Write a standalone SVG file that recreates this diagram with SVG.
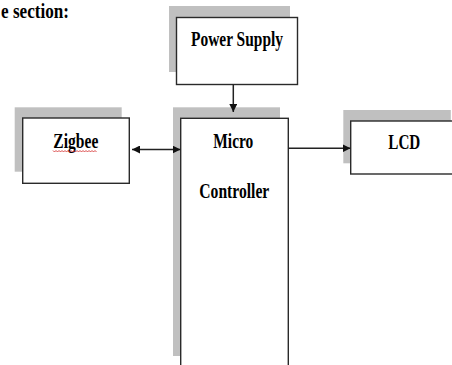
<svg xmlns="http://www.w3.org/2000/svg" width="452" height="365" viewBox="0 0 452 365">
<defs>
<style>
.sh{fill:#c0c0c0}
.bx{fill:#fff;stroke:#2a2a2a;stroke-width:1.4}
.t{font-family:"Liberation Serif","Times New Roman",serif;font-weight:bold;font-size:21px;fill:#000}
.ln{stroke:#222;stroke-width:1.5;fill:none}
</style>
<marker id="ah" viewBox="0 0 10 10" refX="10" refY="5" markerWidth="8" markerHeight="8" markerUnits="userSpaceOnUse" orient="auto-start-reverse">
<path d="M0,0 L10,5 L0,10 z" fill="#111"/>
</marker>
</defs>
<rect width="452" height="365" fill="#fff"/>
<text class="t" x="1" y="17.5" textLength="68" lengthAdjust="spacingAndGlyphs">e section:</text>
<g id="power-supply">
<rect class="sh" x="169" y="6" width="121" height="66"/>
<rect class="bx" x="176.5" y="17.5" width="121" height="67"/>
<text class="t" x="191" y="46" textLength="92" lengthAdjust="spacingAndGlyphs">Power Supply</text>
</g>
<g id="zigbee">
<rect class="sh" x="14.7" y="107.3" width="107" height="64.4"/>
<rect class="bx" x="22.7" y="118" width="106.6" height="65.3"/>
<text class="t" x="53.3" y="148" textLength="45" lengthAdjust="spacingAndGlyphs">Zigbee</text>
<path d="M53,150.5 l1.5,1.5 l1.5,-1.5 l1.5,1.5 l1.5,-1.5 l1.5,1.5 l1.5,-1.5 l1.5,1.5 l1.5,-1.5 l1.5,1.5 l1.5,-1.5 l1.5,1.5 l1.5,-1.5 l1.5,1.5 l1.5,-1.5 l1.5,1.5 l1.5,-1.5 l1.5,1.5 l1.5,-1.5 l1.5,1.5 l1.5,-1.5 l1.5,1.5 l1.5,-1.5 l1.5,1.5 l1.5,-1.5 l1.5,1.5 l1.5,-1.5 l1.5,1.5 l1.5,-1.5 l1.5,1.5" fill="none" stroke="#d02020" stroke-width="0.8"/>
</g>
<g id="micro-controller">
<rect class="sh" x="173" y="107.3" width="107" height="248.7"/>
<rect class="bx" x="180.7" y="118.3" width="107.6" height="260"/>
<text class="t" x="213.3" y="148.3" textLength="40" lengthAdjust="spacingAndGlyphs">Micro</text>
<text class="t" x="199.3" y="198.3" textLength="70" lengthAdjust="spacingAndGlyphs">Controller</text>
</g>
<g id="lcd">
<rect class="sh" x="343.3" y="110" width="107.5" height="53.3"/>
<rect class="bx" x="350.7" y="121" width="120" height="53"/>
<text class="t" x="388.3" y="149" textLength="32" lengthAdjust="spacingAndGlyphs">LCD</text>
</g>
<g id="connectors">
<line class="ln" x1="233.3" y1="84.5" x2="233.3" y2="112" marker-end="url(#ah)"/>
<line class="ln" x1="132" y1="149.5" x2="180.5" y2="149.5" marker-start="url(#ah)" marker-end="url(#ah)"/>
<line class="ln" x1="288.3" y1="148.3" x2="350.5" y2="148.3" marker-end="url(#ah)"/>
</g>
</svg>
